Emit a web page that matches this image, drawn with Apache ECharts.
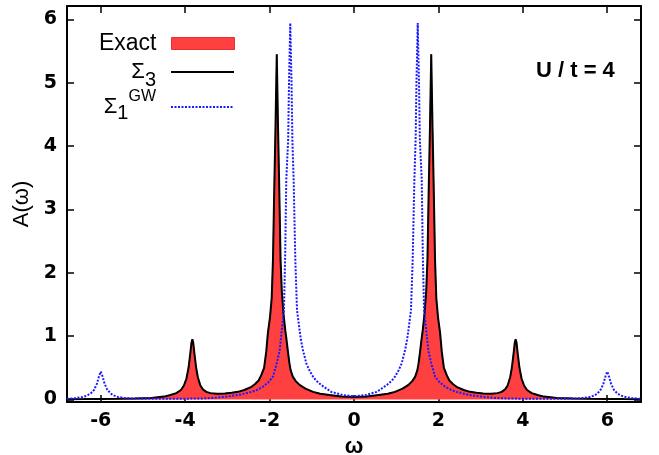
<!DOCTYPE html>
<html>
<head>
<meta charset="utf-8">
<script src="https://cdn.jsdelivr.net/npm/echarts@6/dist/echarts.min.js"></script>
<style>
html,body{margin:0;padding:0;background:#fff;}
#chart{width:659px;height:455px;}
</style>
</head>
<body>
<div id="chart"></div>
<script>
// omega grid for Exact / Sigma_3 (they coincide in the picture)
const omegaS3 = [-6.8,-6.4,-6.0,-5.6,-5.2,-4.8,-4.5,-4.35,-4.21,-4.1,-4.03,-3.97,-3.92,-3.88,-3.85,-3.83,-3.81,-3.78,-3.74,-3.7,-3.64,-3.58,-3.5,-3.4,-3.25,-3.06,-2.9,-2.75,-2.6,-2.43,-2.35,-2.26,-2.2,-2.13,-2.08,-2.04,-1.99,-1.95,-1.92,-1.89,-1.86,-1.83,-1.8,-1.77,-1.74,-1.71,-1.67,-1.63,-1.6,-1.57,-1.53,-1.5,-1.45,-1.38,-1.29,-1.15,-0.97,-0.8,-0.54,-0.3,
  0,
  0.3,0.54,0.8,0.97,1.15,1.29,1.38,1.45,1.5,1.53,1.57,1.6,1.63,1.67,1.71,1.74,1.77,1.8,1.83,1.86,1.89,1.92,1.95,1.99,2.04,2.08,2.13,2.2,2.26,2.35,2.43,2.6,2.75,2.9,3.06,3.25,3.4,3.5,3.58,3.64,3.7,3.74,3.78,3.81,3.83,3.85,3.88,3.92,3.97,4.03,4.1,4.21,4.35,4.5,4.8,5.2,5.6,6.0,6.4,6.8];
const aSigma3 = [0.005,0.006,0.008,0.01,0.015,0.025,0.045,0.07,0.1,0.15,0.22,0.33,0.5,0.72,0.9,0.95,0.9,0.72,0.5,0.35,0.22,0.16,0.12,0.1,0.09,0.095,0.105,0.12,0.15,0.2,0.24,0.3,0.38,0.5,0.75,1.05,1.3,1.6,2.2,3.3,4.3,5.45,4.3,3.3,2.2,1.7,1.35,1.1,0.95,0.78,0.57,0.46,0.36,0.29,0.23,0.17,0.12,0.09,0.068,0.045,
  0.04,
  0.045,0.068,0.09,0.12,0.17,0.23,0.29,0.36,0.46,0.57,0.78,0.95,1.1,1.35,1.7,2.2,3.3,4.3,5.45,4.3,3.3,2.2,1.6,1.3,1.05,0.75,0.5,0.38,0.3,0.24,0.2,0.15,0.12,0.105,0.095,0.09,0.1,0.12,0.16,0.22,0.35,0.5,0.72,0.9,0.95,0.9,0.72,0.5,0.33,0.22,0.15,0.1,0.07,0.045,0.025,0.015,0.01,0.008,0.006,0.005];
const aExact = [0.005,0.006,0.008,0.01,0.015,0.025,0.045,0.07,0.1,0.15,0.22,0.33,0.5,0.72,0.9,0.95,0.9,0.72,0.5,0.35,0.22,0.16,0.12,0.1,0.09,0.095,0.105,0.12,0.15,0.2,0.24,0.3,0.38,0.5,0.75,1.05,1.3,1.6,2.2,3.3,4.3,5.45,4.3,3.3,2.2,1.7,1.35,1.1,0.95,0.78,0.57,0.46,0.36,0.29,0.23,0.17,0.12,0.09,0.068,0.045,
  0.04,
  0.045,0.068,0.09,0.12,0.17,0.23,0.29,0.36,0.46,0.57,0.78,0.95,1.1,1.35,1.7,2.2,3.3,4.3,5.45,4.3,3.3,2.2,1.6,1.3,1.05,0.75,0.5,0.38,0.3,0.24,0.2,0.15,0.12,0.105,0.095,0.09,0.1,0.12,0.16,0.22,0.35,0.5,0.72,0.9,0.95,0.9,0.72,0.5,0.33,0.22,0.15,0.1,0.07,0.045,0.025,0.015,0.01,0.008,0.006,0.005];

// omega grid and values for Sigma_1^GW
const omegaGW = [-6.8,-6.6,-6.43,-6.33,-6.24,-6.16,-6.09,-6.04,-6.0,-5.96,-5.91,-5.85,-5.77,-5.7,-5.6,-5.45,-5.2,-4.8,-4.2,-3.62,-3.3,-3.06,-2.7,-2.43,-2.3,-2.16,-2.03,-1.92,-1.83,-1.76,-1.71,-1.66,-1.63,-1.605,-1.56,-1.54,-1.51,-1.48,-1.46,-1.43,-1.39,-1.35,-1.29,-1.26,-1.21,-1.13,-1.05,-0.97,-0.9,-0.78,-0.54,-0.26,
  0,
  0.26,0.54,0.78,0.9,0.97,1.05,1.13,1.21,1.26,1.29,1.35,1.39,1.43,1.46,1.48,1.51,1.54,1.56,1.605,1.63,1.66,1.71,1.76,1.83,1.92,2.03,2.16,2.3,2.43,2.7,3.06,3.3,3.62,4.2,4.8,5.2,5.45,5.6,5.7,5.77,5.85,5.91,5.96,6.0,6.04,6.09,6.16,6.24,6.33,6.43,6.6,6.8];
const aGW = [0.01,0.02,0.04,0.06,0.095,0.15,0.25,0.37,0.44,0.37,0.25,0.16,0.095,0.065,0.04,0.025,0.015,0.01,0.01,0.016,0.025,0.04,0.075,0.12,0.15,0.2,0.27,0.36,0.57,0.78,1.1,1.41,2.3,3.46,4.1,5.0,5.94,5.0,4.1,3.46,2.2,1.41,1.1,0.95,0.78,0.57,0.45,0.36,0.3,0.23,0.12,0.068,
  0.052,
  0.068,0.12,0.23,0.3,0.36,0.45,0.57,0.78,0.95,1.1,1.41,2.2,3.46,4.1,5.0,5.94,5.0,4.1,3.46,2.3,1.41,1.1,0.78,0.57,0.36,0.27,0.2,0.15,0.12,0.075,0.04,0.025,0.016,0.01,0.01,0.015,0.025,0.04,0.065,0.095,0.16,0.25,0.37,0.44,0.37,0.25,0.15,0.095,0.06,0.04,0.02,0.01];

const xTickValues = [-6,-4,-2,0,2,4,6];
const yTickValues = [0,1,2,3,4,5,6];
const annotation = 'U / t = 4';

const pair = (xs, ys) => xs.map((x, i) => [x, ys[i]]);
const FONT = '"Liberation Sans", Arial, sans-serif';
const TICKFONT = '"DejaVu Sans", "Liberation Sans", sans-serif';
const intFmt = v => (Number.isInteger(Math.round(v*1000)/1000) ? String(Math.round(v)) : '');

const chart = echarts.init(document.getElementById('chart'), null, {renderer: 'canvas'});

const tickCommon = {show: true, inside: true, length: 7, lineStyle: {color: '#000', width: 1.5}};
const lineCommon = {show: true, onZero: false, lineStyle: {color: '#000', width: 2}};
const hiddenSymbol = {color: 'rgba(0,0,0,0)', borderWidth: 0, opacity: 0};

const option = {
  animation: false,
  backgroundColor: '#fff',
  grid: {left: 67, right: 18, top: 6, bottom: 53, containLabel: false, outerBoundsMode: 'none'},
  xAxis: [
    {type: 'value', min: -6.8, max: 6.8, splitNumber: 7, position: 'bottom',
     axisLine: lineCommon, axisTick: tickCommon, splitLine: {show: false},
     axisLabel: {margin: 10, color: '#000', fontSize: 19, fontWeight: 'bold', fontFamily: TICKFONT, formatter: intFmt},
     name: 'ω', nameLocation: 'middle', nameGap: 29,
     nameTextStyle: {color: '#000', fontSize: 22, fontWeight: 'bold', fontFamily: FONT}},
    {type: 'value', min: -6.8, max: 6.8, splitNumber: 7, position: 'top',
     axisLine: lineCommon, axisTick: tickCommon, splitLine: {show: false}, axisLabel: {show: false}}
  ],
  yAxis: [
    {type: 'value', min: -0.04, max: 6.21, splitNumber: 6, position: 'left',
     axisLine: lineCommon, axisTick: tickCommon, splitLine: {show: false},
     axisLabel: {margin: 10, color: '#000', fontSize: 19, fontWeight: 'bold', fontFamily: TICKFONT, formatter: intFmt},
     name: 'A(ω)', nameLocation: 'middle', nameGap: 25, nameRotate: 90,
     nameTextStyle: {color: '#000', fontSize: 22, fontFamily: FONT}},
    {type: 'value', min: -0.04, max: 6.21, splitNumber: 6, position: 'right',
     axisLine: lineCommon, axisTick: tickCommon, splitLine: {show: false}, axisLabel: {show: false}}
  ],
  legend: [
    {data: [{name: 'Exact', icon: 'rect', itemStyle: {color: '#ff4040', borderColor: '#e83030', borderWidth: 1}}],
     right: 424, top: 32, padding: 0, align: 'right', itemWidth: 63, itemHeight: 12, selectedMode: false,
     textStyle: {color: '#000', fontSize: 23, fontFamily: FONT, padding: [0, 10, 0, 0]}},
    {data: [{name: 'Σ3', itemStyle: hiddenSymbol}], right: 424, top: 61, padding: 0, align: 'right', itemWidth: 63, itemHeight: 14, selectedMode: false,
     itemStyle: hiddenSymbol,
     formatter: () => '{s|Σ}{sub|3}',
     textStyle: {color: '#000', fontFamily: FONT, padding: [0, 10, 0, 0],
       rich: {s: {fontSize: 22, fontFamily: FONT, color: '#000'},
              sub: {fontSize: 20, fontFamily: FONT, color: '#000', padding: [16, 0, 0, 0]}}}},
    {data: [{name: 'Σ1GW', itemStyle: hiddenSymbol}], right: 424, top: 89, padding: 0, align: 'right', itemWidth: 63, itemHeight: 14, selectedMode: false,
     itemStyle: hiddenSymbol,
     formatter: () => '{s|Σ}{sub|1}{sup|GW}',
     textStyle: {color: '#000', fontFamily: FONT, padding: [0, 10, 0, 0],
       rich: {s: {fontSize: 22, fontFamily: FONT, color: '#000'},
              sub: {fontSize: 20, fontFamily: FONT, color: '#000', padding: [12, 0, 0, 0]},
              sup: {fontSize: 16, fontFamily: FONT, color: '#000', padding: [0, 0, 20, 0]}}}}
  ],
  graphic: [
    {type: 'text', left: 536, top: 60, z: 100,
     style: {text: annotation, fill: '#000', font: 'bold 22px "Liberation Sans", Arial, sans-serif'}}
  ],
  series: [
    {name: 'Exact', type: 'line', xAxisIndex: 0, yAxisIndex: 0, data: pair(omegaS3, aExact),
     symbol: 'none', smooth: false, z: 1,
     itemStyle: {color: '#ff4040'},
     lineStyle: {color: '#ff4040', width: 1},
     areaStyle: {color: '#ff4040', opacity: 1, origin: 0}},
    {name: 'Σ3', type: 'line', xAxisIndex: 0, yAxisIndex: 0, data: pair(omegaS3, aSigma3),
     symbol: 'none', smooth: false, z: 2,
     itemStyle: {color: '#000'},
     lineStyle: {color: '#000', width: 2}},
    {name: 'Σ1GW', type: 'line', xAxisIndex: 0, yAxisIndex: 0, data: pair(omegaGW, aGW),
     symbol: 'none', smooth: false, z: 3,
     itemStyle: {color: '#1a1aff'},
     lineStyle: {color: '#1a1aff', width: 2, type: [2, 1.5]}}
  ]
};
chart.setOption(option);
</script>
</body>
</html>
